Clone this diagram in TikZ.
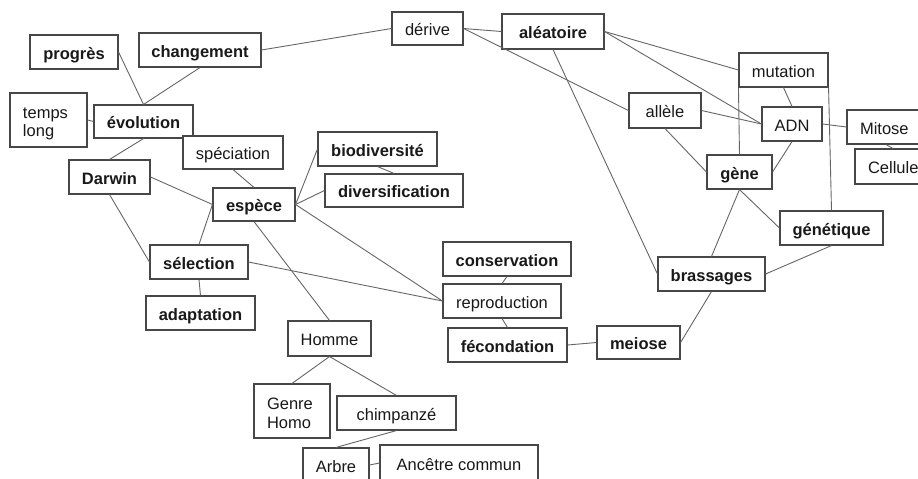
\documentclass[tikz,border=0pt]{standalone}
\usepackage{fontspec}
\setmainfont{Liberation Sans}
\begin{document}
\begin{tikzpicture}[x=1pt,y=-1pt]
\tikzset{
  base/.style={draw=black!72, line width=1.1pt, fill=white, text=black!90,
    font=\fontsize{16.5}{18.5}\selectfont, inner sep=0pt, minimum height=34pt},
  box/.style={base, text height=16pt, text depth=2pt},
  bbox/.style={box, font=\fontsize{16.5}{18.5}\selectfont\bfseries},
  lbox/.style={base, align=left, inner xsep=13pt},
  link/.style={draw=black!60, line width=0.9pt},
}
\fill[white] (0,0) rectangle (918,479);
\useasboundingbox (0,0) rectangle (918,479);

% concept boxes
\node[bbox, minimum width=88pt] (progres) at (74,52) {progrès};
\node[bbox, minimum width=122pt] (changement) at (200,50) {changement};
\node[lbox, text width=51pt, minimum height=54pt] (temps) at (48.5,120) {\rule{0pt}{18pt}temps\\long};
\node[bbox, minimum width=99pt, minimum height=33pt] (evolution) at (143.5,121.5) {évolution};
\node[box, minimum width=100pt, minimum height=33pt] (speciation) at (233,152.5) {spéciation};
\node[bbox, minimum width=81pt] (darwin) at (109.5,177) {Darwin};
\node[bbox, minimum width=82pt, minimum height=33pt] (espece) at (254,204.5) {espèce};
\node[box, minimum width=71pt, minimum height=33pt] (derive) at (427.5,28.5) {dérive};
\node[bbox, minimum width=102pt, minimum height=35pt] (aleatoire) at (553,31.5) {aléatoire};
\node[bbox, minimum width=119pt] (biodiv) at (377.5,149) {biodiversité};
\node[bbox, minimum width=138pt, minimum height=33pt] (diversif) at (394,190.5) {diversification};
\node[box, minimum width=89pt] (mutation) at (783.5,70) {mutation};
\node[box, minimum width=72pt, minimum height=35pt] (allele) at (665,110.5) {allèle};
\node[box, minimum width=60pt] (adn) at (792,124) {ADN};
\node[lbox, text width=52pt, text height=16pt, text depth=2pt] (mitose) at (886,127) {Mitose};
\node[lbox, text width=50pt, text height=16pt, text depth=2pt, minimum height=35pt] (cellule) at (893,166.5) {Cellule};
\node[bbox, minimum width=65pt] (gene) at (739.5,172) {gène};
\node[bbox, minimum width=103pt] (genetique) at (831.5,228) {génétique};
\node[bbox, minimum width=98pt] (selection) at (199,262) {sélection};
\node[bbox, minimum width=109pt] (adaptation) at (200.5,313) {adaptation};
\node[box, minimum width=83pt, minimum height=35pt] (homme) at (329.5,338.5) {Homme};
\node[lbox, text width=50pt, minimum height=54pt] (genre) at (292,411) {\rule{0pt}{16pt}Genre\\Homo};
\node[box, minimum width=119pt] (chimp) at (396.5,413) {chimpanzé};
\node[box, minimum width=66pt] (arbre) at (336,465) {Arbre};
\node[box, minimum width=158pt, minimum height=36pt] (ancetre) at (459,463) {Ancêtre commun};
\node[bbox, minimum width=128pt] (conservation) at (507,259) {conservation};
\node[box, minimum width=118pt] (reproduction) at (502,301) {reproduction};
\node[bbox, minimum width=119pt] (fecondation) at (507.5,345) {fécondation};
\node[bbox, minimum width=83pt, minimum height=33pt] (meiose) at (638.5,342.5) {meiose};
\node[bbox, minimum width=107pt] (brassages) at (711.5,274) {brassages};

% links between concepts
\draw[link] (progres.east) -- (evolution.north);
\draw[link] (changement.south) -- (evolution.north);
\draw[link] (changement.east) -- (derive.west);
\draw[link] (temps.east) -- (evolution.west);
\draw[link] (evolution.south) -- (darwin.north);
\draw[link] (darwin.east) -- (espece.west);
\draw[link] (speciation.south) -- (espece.north);
\draw[link] (darwin.south) -- (selection.west);
\draw[link] (espece.west) -- (selection.north);
\draw[link] (espece.east) -- (biodiv.west);
\draw[link] (espece.east) -- (diversif.west);
\draw[link] (espece.east) -- (reproduction.west);
\draw[link] (biodiv.south) -- (diversif.north);
\draw[link] (espece.south) -- (homme.north);
\draw[link] (selection.east) -- (reproduction.west);
\draw[link] (selection.south) -- (adaptation.north);
\draw[link] (conservation.south) -- (reproduction.north);
\draw[link] (reproduction.south) -- (fecondation.north);
\draw[link] (fecondation.east) -- (meiose.west);
\draw[link] (meiose.east) -- (brassages.south);
\draw[link] (brassages.west) -- (aleatoire.south);
\draw[link] (brassages.north) -- (gene.south);
\draw[link] (brassages.east) -- (genetique.south);
\draw[link] (gene.south) -- (genetique.west);
\draw[link] (allele.south) -- (gene.west);
\draw[link] (gene.east) -- (adn.south);
\draw[link] (allele.east) -- (adn.west);
\draw[link] (derive.east) -- (aleatoire.west);
\draw[link] (derive.east) -- (allele.west);
\draw[link] (aleatoire.east) -- (mutation.west);
\draw[link] (aleatoire.east) -- (adn.west);
\draw[link] (mutation.south) -- (adn.north);
\draw[link] (mutation.south west) -- (gene.north);
\draw[link] (mutation.south east) -- (genetique.north);
\draw[link] (adn.east) -- (mitose.west);
\draw[link] (mitose.south) -- (cellule.north);
\draw[link] (homme.south) -- (genre.north);
\draw[link] (homme.south) -- (chimp.north);
\draw[link] (chimp.south) -- (arbre.north);
\draw[link] (arbre.east) -- (ancetre.west);
\end{tikzpicture}
\end{document}
